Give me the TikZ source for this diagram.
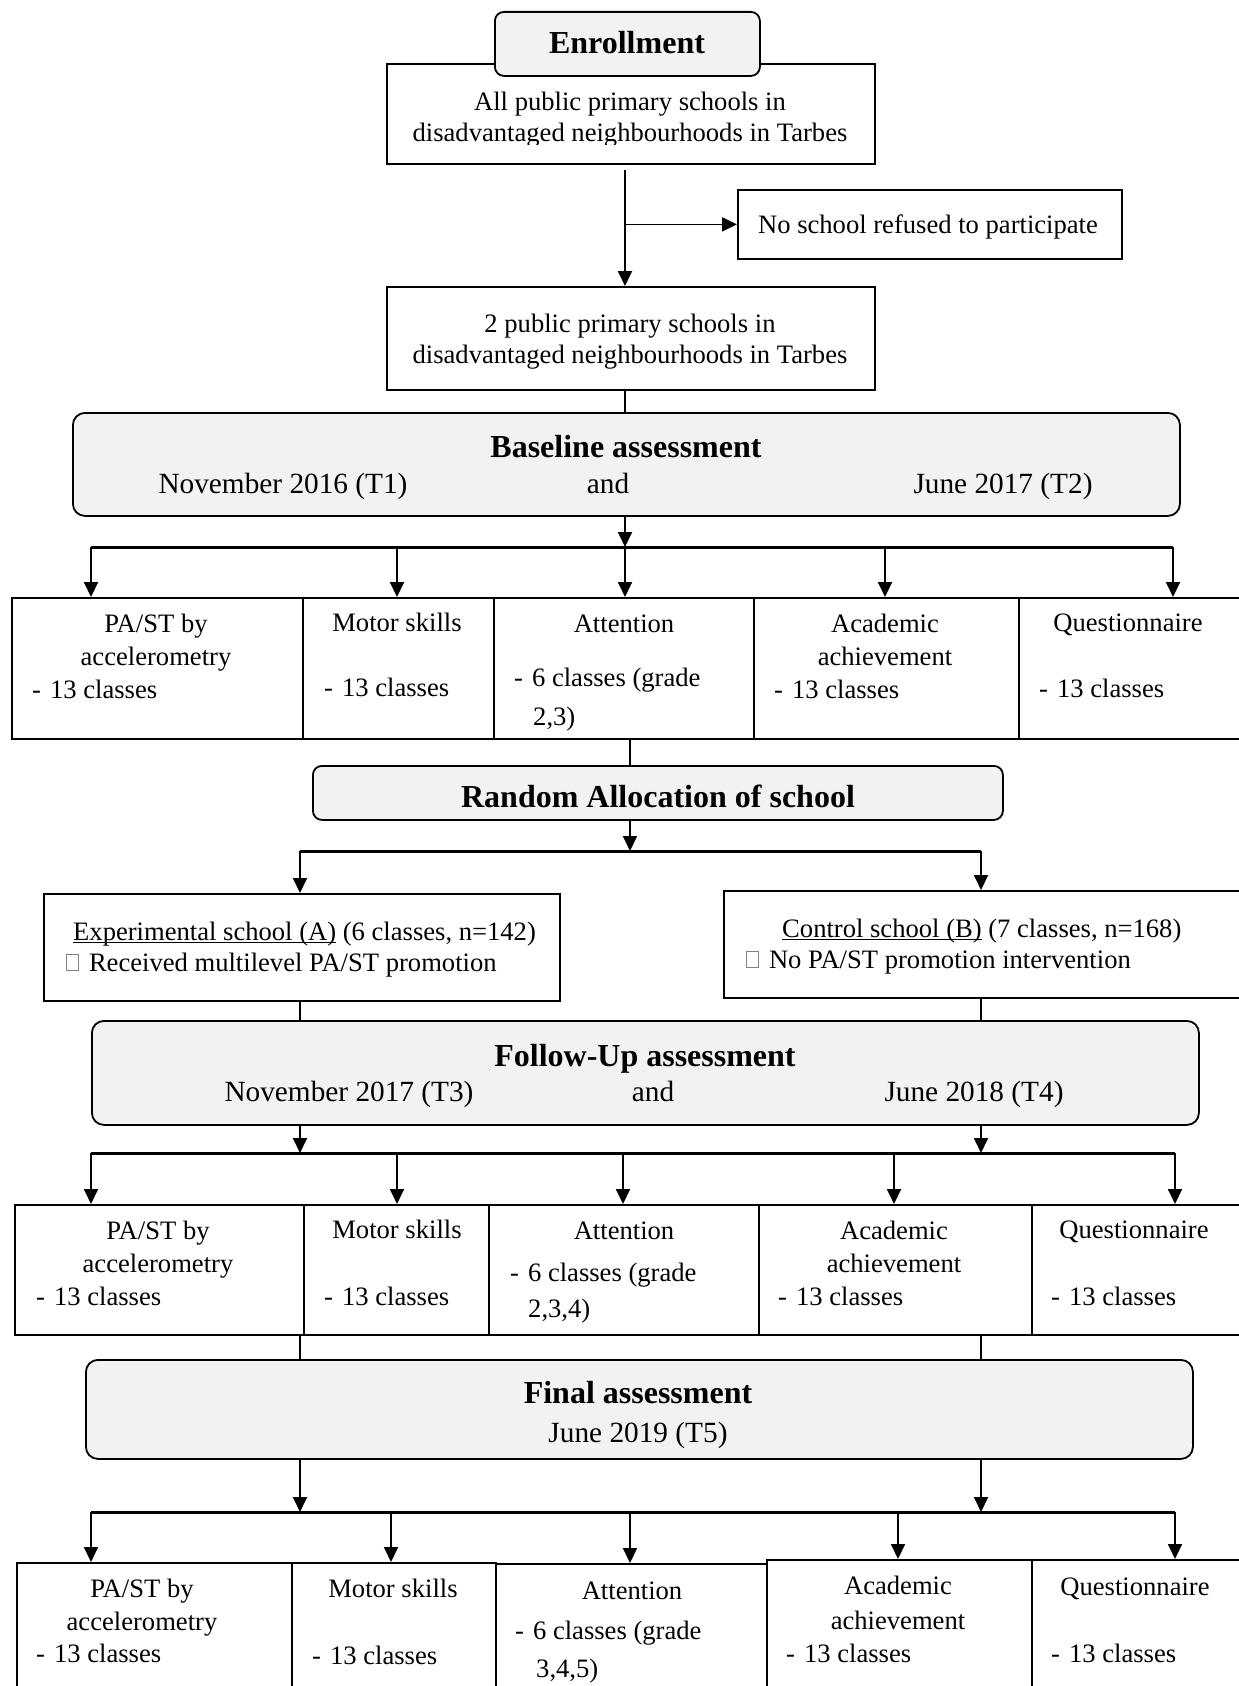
\documentclass[tikz,border=0pt]{standalone}
\usepackage{fontspec}
\setmainfont{Liberation Serif}
\usetikzlibrary{arrows.meta,calc}
\definecolor{boxgray}{RGB}{242,242,242}
\newcommand\fn{\fontsize{26.6}{32}\selectfont}
\newcommand\fhead{\fontsize{32}{38}\selectfont\bfseries}
\newcommand\fdate{\fontsize{29.3}{35}\selectfont}
\newcommand\emptyglyph{{\color{gray}\setlength\fboxrule{0.9pt}\setlength\fboxsep{0pt}\raisebox{1pt}{\fbox{\rule{0pt}{15pt}\hspace{11pt}}}}}
\newcommand\ulin[1]{\setbox0\hbox{#1}\rlap{\rule[-3pt]{\wd0}{1.4pt}}\box0\relax}
\newcommand\dashitem{-\hspace{9pt}}
\begin{document}
\begin{tikzpicture}[x=1pt,y=-1pt,
  sq/.style={draw, line width=1.8pt, inner sep=0pt, anchor=north west},
  rbox/.style={draw, line width=1.8pt, rounded corners=12pt, fill=boxgray, inner sep=0pt, anchor=north west},
  tx/.style={inner sep=0pt, anchor=base, font=\fn},
  txl/.style={inner sep=0pt, anchor=base west, font=\fn},
  hd/.style={inner sep=0pt, anchor=base, font=\fhead},
  dt/.style={inner sep=0pt, anchor=base, font=\fdate},
  ln/.style={line width=1.8pt},
  arr/.style={line width=1.8pt, -{Triangle[length=15pt,width=14pt]}},
  bar/.style={line width=3pt}
]
\useasboundingbox (0,0) rectangle (1239,1686);
\clip (0,0) rectangle (1239,1686);

% ---------- top part ----------
\node[sq, minimum width=488pt, minimum height=100pt] (all) at (386,63) {};
\begin{scope}
  \clip (386,60) rectangle (874,144);
  \node[tx] (allt1) at (630,110) {All public primary schools in};
  \node[tx] (allt2) at (630,141) {disadvantaged neighbourhoods in Tarbes};
\end{scope}
\node[rbox, rounded corners=9pt, minimum width=265pt, minimum height=64pt] (enr) at (494,11) {};
\node[hd] (enrt) at (627,53) {Enrollment};

\node[sq, minimum width=384pt, minimum height=69pt] (nosc) at (737,189) {};
\node[tx] (nosct) at (928,233) {No school refused to participate};

\node[sq, minimum width=488pt, minimum height=103pt] (two) at (386,286) {};
\node[tx] (twot1) at (630,332) {2 public primary schools in};
\node[tx] (twot2) at (630,363) {disadvantaged neighbourhoods in Tarbes};

\coordinate (v0) at (625,0);
\draw[arr] ($(v0 |- all.south)+(0,5)$) -- (v0 |- two.north);
\draw[arr] (v0 |- nosc.west) -- (nosc.west);

% ---------- baseline ----------
\node[rbox, minimum width=1107pt, minimum height=103pt] (base) at (72,412) {};
\node[hd] (baset) at (626,457) {Baseline assessment};
\node[dt] (based1) at (283,493) {November 2016 (T1)};
\node[dt] (based2) at (608,493) {and};
\node[dt] (based3) at (1003,493) {June 2017 (T2)};
\draw[ln] (v0 |- two.south) -- (v0 |- base.north);

% ---------- row 1 ----------
\node[sq, minimum width=291pt, minimum height=141pt] (pa1) at (11,597) {};
\node[sq, minimum width=191pt, minimum height=141pt] (mo1) at (302,597) {};
\node[sq, minimum width=260pt, minimum height=141pt] (at1) at (493,597) {};
\node[sq, minimum width=265pt, minimum height=141pt] (ac1) at (753,597) {};
\node[sq, minimum width=240pt, minimum height=141pt] (qu1) at (1018,597) {};

\node[tx] (pa1a) at (156,632) {PA/ST by};
\node[tx] (pa1b) at (156,665) {accelerometry};
\node[txl] (pa1c) at (32,698) {\dashitem 13 classes};
\node[tx] (mo1a) at (397,631) {Motor skills};
\node[txl] (mo1b) at (324,696) {\dashitem 13 classes};
\node[tx] (at1a) at (624,632) {Attention};
\node[txl] (at1b) at (514,686) {\dashitem 6 classes (grade};
\node[txl] (at1c) at (533,725) {2,3)};
\node[tx] (ac1a) at (885,632) {Academic};
\node[tx] (ac1b) at (885,665) {achievement};
\node[txl] (ac1c) at (774,698) {\dashitem 13 classes};
\node[tx] (qu1a) at (1128,631) {Questionnaire};
\node[txl] (qu1b) at (1039,697) {\dashitem 13 classes};

\coordinate (j1a) at (91,547);
\coordinate (j1b) at (397,547);
\coordinate (j1c) at (625,547);
\coordinate (j1d) at (885,547);
\coordinate (j1e) at (1173,547);
\draw[arr] (v0 |- base.south) -- (v0 |- j1a);
\draw[bar] (j1a) -- (j1e);
\draw[arr] (j1a) -- (j1a |- pa1.north);
\draw[arr] (j1b) -- (j1b |- mo1.north);
\draw[arr] (j1c) -- (j1c |- at1.north);
\draw[arr] (j1d) -- (j1d |- ac1.north);
\draw[arr] (j1e) -- (j1e |- qu1.north);

% ---------- random allocation ----------
\node[rbox, rounded corners=9pt, minimum width=690pt, minimum height=54pt] (rand) at (312,765) {};
\node[hd] (randt) at (658,807) {Random Allocation of school};
\coordinate (v1) at (630,0);
\draw[ln] (v1 |- at1.south) -- (v1 |- rand.north);

\node[sq, minimum width=516pt, minimum height=107pt] (exp) at (43,893) {};
\node[txl] (expt1) at (73,940) {\ulin{Experimental school (A)} (6 classes, n=142)};
\node[txl] (expt2) at (66,971) {\emptyglyph\hspace{10pt}Received multilevel PA/ST promotion};

\node[sq, minimum width=540pt, minimum height=107pt] (ctrl) at (723,890) {};
\node[txl] (ctrlt1) at (782,937) {\ulin{Control school (B)} (7 classes, n=168)};
\node[txl] (ctrlt2) at (746,968) {\emptyglyph\hspace{10pt}No PA/ST promotion intervention};

\coordinate (j2a) at (300,851);
\coordinate (j2b) at (981,851);
\draw[arr] (v1 |- rand.south) -- (v1 |- j2a);
\draw[bar] (j2a) -- (j2b);
\draw[arr] (j2a) -- (j2a |- exp.north);
\draw[arr] (j2b) -- (j2b |- ctrl.north);

% ---------- follow-up ----------
\node[rbox, minimum width=1107pt, minimum height=104pt] (fu) at (91,1020) {};
\node[hd] (fut) at (645,1066) {Follow-Up assessment};
\node[dt] (fud1) at (349,1101) {November 2017 (T3)};
\node[dt] (fud2) at (653,1101) {and};
\node[dt] (fud3) at (974,1101) {June 2018 (T4)};
\draw[ln] (j2a |- exp.south) -- (j2a |- fu.north);
\draw[ln] (j2b |- ctrl.south) -- (j2b |- fu.north);

% ---------- row 2 ----------
\node[sq, minimum width=289pt, minimum height=130pt] (pa2) at (14,1204) {};
\node[sq, minimum width=185pt, minimum height=130pt] (mo2) at (303,1204) {};
\node[sq, minimum width=270pt, minimum height=130pt] (at2) at (488,1204) {};
\node[sq, minimum width=273pt, minimum height=130pt] (ac2) at (758,1204) {};
\node[sq, minimum width=230pt, minimum height=130pt] (qu2) at (1031,1204) {};

\node[tx] (pa2a) at (158,1239) {PA/ST by};
\node[tx] (pa2b) at (158,1272) {accelerometry};
\node[txl] (pa2c) at (36,1305) {\dashitem 13 classes};
\node[tx] (mo2a) at (397,1238) {Motor skills};
\node[txl] (mo2b) at (324,1305) {\dashitem 13 classes};
\node[tx] (at2a) at (624,1239) {Attention};
\node[txl] (at2b) at (510,1281) {\dashitem 6 classes (grade};
\node[txl] (at2c) at (528,1317) {2,3,4)};
\node[tx] (ac2a) at (894,1239) {Academic};
\node[tx] (ac2b) at (894,1272) {achievement};
\node[txl] (ac2c) at (778,1305) {\dashitem 13 classes};
\node[tx] (qu2a) at (1134,1238) {Questionnaire};
\node[txl] (qu2b) at (1051,1305) {\dashitem 13 classes};

\coordinate (j3a) at (91,1153);
\coordinate (j3b) at (397,1153);
\coordinate (j3c) at (623,1153);
\coordinate (j3d) at (894,1153);
\coordinate (j3e) at (1175,1153);
\draw[arr] (j2a |- fu.south) -- (j2a |- j3a);
\draw[arr] (j2b |- fu.south) -- (j2b |- j3a);
\draw[bar] (j3a) -- (j3e);
\draw[arr] (j3a) -- (j3a |- pa2.north);
\draw[arr] (j3b) -- (j3b |- mo2.north);
\draw[arr] (j3c) -- (j3c |- at2.north);
\draw[arr] (j3d) -- (j3d |- ac2.north);
\draw[arr] (j3e) -- (j3e |- qu2.north);

% ---------- final ----------
\node[rbox, minimum width=1107pt, minimum height=99pt] (fin) at (85,1359) {};
\node[hd] (fint) at (638,1403) {Final assessment};
\node[dt] (find) at (638,1442) {June 2019 (T5)};
\draw[ln] (j2a |- pa2.south) -- (j2a |- fin.north);
\draw[ln] (j2b |- ac2.south) -- (j2b |- fin.north);

% ---------- row 3 ----------
\node[sq, minimum width=275pt, minimum height=150pt] (pa3) at (16,1562) {};
\node[sq, minimum width=204pt, minimum height=150pt] (mo3) at (291,1562) {};
\node[sq, minimum width=271pt, minimum height=150pt] (at3) at (495,1563) {};
\node[sq, minimum width=265pt, minimum height=150pt] (ac3) at (766,1559) {};
\node[sq, minimum width=230pt, minimum height=150pt] (qu3) at (1031,1559) {};

\node[tx] (pa3a) at (142,1597) {PA/ST by};
\node[tx] (pa3b) at (142,1630) {accelerometry};
\node[txl] (pa3c) at (36,1662) {\dashitem 13 classes};
\node[tx] (mo3a) at (393,1597) {Motor skills};
\node[txl] (mo3b) at (312,1664) {\dashitem 13 classes};
\node[tx] (at3a) at (632,1599) {Attention};
\node[txl] (at3b) at (515,1639) {\dashitem 6 classes (grade};
\node[txl] (at3c) at (536,1677) {3,4,5)};
\node[tx] (ac3a) at (898,1594) {Academic};
\node[tx] (ac3b) at (898,1629) {achievement};
\node[txl] (ac3c) at (786,1662) {\dashitem 13 classes};
\node[tx] (qu3a) at (1135,1595) {Questionnaire};
\node[txl] (qu3b) at (1051,1662) {\dashitem 13 classes};

\coordinate (j4a) at (91,1512);
\coordinate (j4b) at (391,1512);
\coordinate (j4c) at (630,1512);
\coordinate (j4d) at (898,1512);
\coordinate (j4e) at (1175,1512);
\draw[arr] (j2a |- fin.south) -- (j2a |- j4a);
\draw[arr] (j2b |- fin.south) -- (j2b |- j4a);
\draw[bar] (j4a) -- (j4e);
\draw[arr] (j4a) -- (j4a |- pa3.north);
\draw[arr] (j4b) -- (j4b |- mo3.north);
\draw[arr] (j4c) -- (j4c |- at3.north);
\draw[arr] (j4d) -- (j4d |- ac3.north);
\draw[arr] (j4e) -- (j4e |- qu3.north);
\end{tikzpicture}
\end{document}
